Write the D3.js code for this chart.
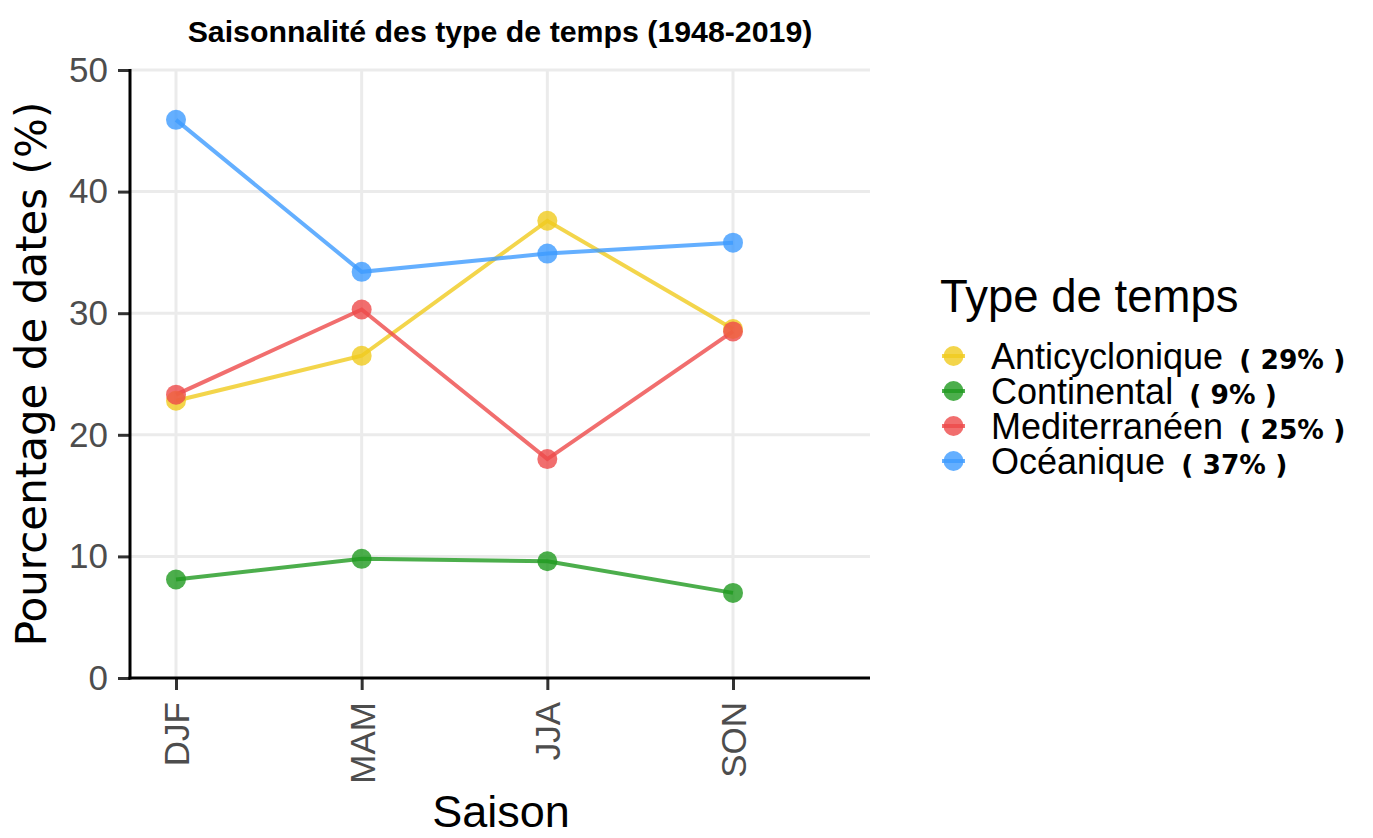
<!DOCTYPE html>
<html>
<head>
<meta charset="utf-8">
<script src="https://cdn.jsdelivr.net/npm/d3@7"></script>
<style>
  body { margin: 0; background: #fff; }
  svg { display: block; }
</style>
</head>
<body>
<svg id="chart" width="1373" height="838"></svg>
<script>
// ---- data ----
const seasons = ["DJF", "MAM", "JJA", "SON"];
const types = ["Anticyclonique", "Continental", "Mediterranéen", "Océanique"];
const totals = ["29%", "9%", "25%", "37%"];
const anticyclonique = [22.8, 26.5, 37.6, 28.7];
const continental = [8.1, 9.8, 9.6, 7.0];
const mediterraneen = [23.3, 30.3, 18.0, 28.5];
const oceanique = [45.9, 33.4, 34.9, 35.8];
const yTicks = [0, 10, 20, 30, 40, 50];
const colors = ["#F0CB1E", "#1F9A1F", "#EE4A4A", "#3D9BFF"];

const seriesValues = [anticyclonique, continental, mediterraneen, oceanique];
const series = types.map((t, i) => ({
  name: t, total: totals[i], color: colors[i],
  values: seasons.map((s, j) => ({ season: s, value: seriesValues[i][j] }))
}));

// ---- layout ----
const svg = d3.select("#chart");
const L = 130, R = 870, T = 70, B = 678;
const SANS = "'Liberation Sans', Arial, sans-serif";

const x = d3.scalePoint().domain(seasons).range([176, 733]);
const y = d3.scaleLinear().domain([0, 50]).range([B, T]);

// grid
const grid = svg.append("g");
grid.selectAll("line.h").data(yTicks.filter(d => d > 0)).join("line")
  .attr("x1", L).attr("x2", R).attr("y1", d => y(d)).attr("y2", d => y(d))
  .attr("stroke", "#EBEBEB").attr("stroke-width", 3);
grid.selectAll("line.v").data(seasons).join("line")
  .attr("x1", d => x(d)).attr("x2", d => x(d)).attr("y1", T).attr("y2", B)
  .attr("stroke", "#EBEBEB").attr("stroke-width", 3);

// axes
const yAxis = svg.append("g").attr("transform", `translate(${L},0)`)
  .call(d3.axisLeft(y).tickValues(yTicks).tickSize(12).tickPadding(10));
const xAxis = svg.append("g").attr("transform", `translate(0,${B})`)
  .call(d3.axisBottom(x).tickSize(12).tickPadding(10));
[yAxis, xAxis].forEach(a => {
  a.select(".domain").remove();
  a.selectAll(".tick line").attr("stroke", "#333").attr("stroke-width", 3);
  a.selectAll(".tick text").attr("fill", "#4D4D4D")
    .style("font-family", SANS).style("font-size", "35px");
});
xAxis.selectAll(".tick text")
  .attr("transform", "rotate(-90)")
  .attr("text-anchor", "end")
  .attr("x", -24).attr("y", 0).attr("dy", "0.36em");
svg.append("line").attr("x1", L).attr("x2", L).attr("y1", T - 1).attr("y2", B + 1.5)
  .attr("stroke", "#000").attr("stroke-width", 3);
svg.append("line").attr("x1", L - 1.5).attr("x2", R).attr("y1", B).attr("y2", B)
  .attr("stroke", "#000").attr("stroke-width", 3);

// lines
const line = d3.line().x(d => x(d.season)).y(d => y(d.value));
svg.append("g").selectAll("path").data(series).join("path")
  .attr("d", d => line(d.values))
  .attr("fill", "none").attr("stroke", d => d.color)
  .attr("stroke-width", 4).attr("stroke-opacity", 0.8);

// points
series.forEach(s => {
  svg.append("g").selectAll("circle").data(s.values).join("circle")
    .attr("cx", d => x(d.season)).attr("cy", d => y(d.value)).attr("r", 10)
    .attr("fill", s.color).attr("fill-opacity", 0.8);
});

// title
svg.append("text").attr("x", 500).attr("y", 42).attr("text-anchor", "middle")
  .style("font-family", SANS)
  .style("font-weight", "bold").style("font-size", "30.3px")
  .text("Saisonnalité des type de temps (1948-2019)");

// axis titles
svg.append("text").attr("x", 501).attr("y", 827).attr("text-anchor", "middle")
  .style("font-family", SANS).style("font-size", "45px")
  .text("Saison");
svg.append("text").attr("transform", `translate(46,${(T + B) / 2}) rotate(-90)`)
  .attr("text-anchor", "middle")
  .style("font-family", "'DejaVu Sans', sans-serif").style("font-size", "42px")
  .text("Pourcentage de dates (%)");

// legend
const lg = svg.append("g");
lg.append("text").attr("x", 940).attr("y", 312)
  .style("font-family", SANS).style("font-size", "45.5px")
  .text("Type de temps");
const rows = lg.selectAll("g.row").data(series).join("g")
  .attr("transform", (d, i) => `translate(0,${356 + i * 35})`);
rows.append("line").attr("x1", 942).attr("x2", 965).attr("y1", 0).attr("y2", 0)
  .attr("stroke", d => d.color).attr("stroke-width", 4).attr("stroke-opacity", 0.8);
rows.append("circle").attr("cx", 953.5).attr("cy", 0).attr("r", 10)
  .attr("fill", d => d.color).attr("fill-opacity", 0.8);
const lt = rows.append("text").attr("x", 991).attr("y", 0).attr("dy", "0.36em")
  .style("font-family", SANS).style("font-size", "36px");
lt.append("tspan").text(d => d.name);
lt.append("tspan").attr("dx", 16).style("font-family", "'DejaVu Sans', sans-serif")
  .style("font-weight", "bold").style("font-size", "26.5px")
  .text(d => `( ${d.total} )`);
</script>
</body>
</html>
